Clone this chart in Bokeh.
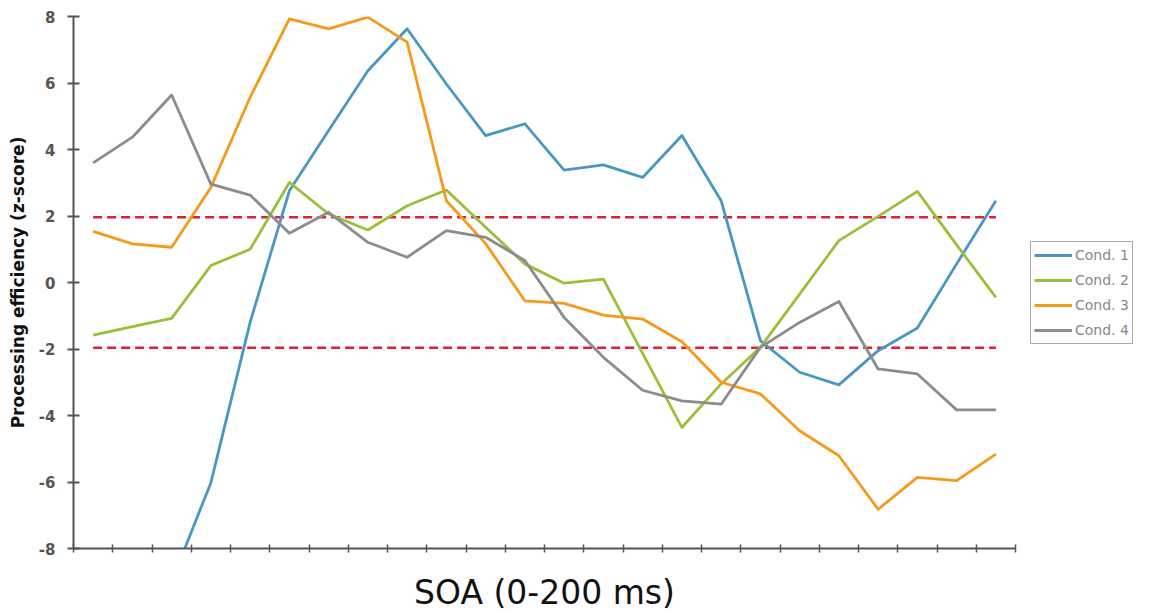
import numpy as np
from bokeh.plotting import figure
from bokeh.models import Range1d, FixedTicker, Legend, LegendItem
from bokeh.embed import file_html
from bokeh.resources import INLINE

# ---- data ----
n_points = 24
cond1 = [-13.0, -11.0, -9.0, -6.02, -1.2, 2.76, 4.57, 6.37, 7.63, 5.97, 4.42, 4.77,
         3.38, 3.54, 3.16, 4.42, 2.46, -1.75, -2.7, -3.08, -2.05, -1.37, 0.56, 2.46]
cond2 = [-1.58, -1.33, -1.08, 0.51, 1.0, 3.01, 2.06, 1.58, 2.31, 2.78, 1.66, 0.56,
         -0.02, 0.1, -2.13, -4.36, -3.05, -1.95, -0.35, 1.26, 1.99, 2.74, 1.13, -0.45]
cond3 = [1.54, 1.16, 1.06, 2.86, 5.57, 7.93, 7.63, 7.98, 7.23, 2.46, 1.17, -0.55,
         -0.63, -0.98, -1.1, -1.78, -3.0, -3.35, -4.46, -5.21, -6.82, -5.86, -5.96, -5.16]
cond4 = [3.6, 4.37, 5.64, 2.96, 2.63, 1.48, 2.11, 1.21, 0.76, 1.56, 1.36, 0.66,
         -1.05, -2.25, -3.24, -3.56, -3.66, -1.95, -1.2, -0.57, -2.6, -2.75, -3.83, -3.83]
series_names = ["Cond. 1", "Cond. 2", "Cond. 3", "Cond. 4"]
series_colors = ["#4a97c4", "#9cbf3a", "#f7991c", "#8c8c8c"]
threshold = 1.96
y_ticks = [-8, -6, -4, -2, 0, 2, 4, 6, 8]
y_tick_labels = {t: str(t) for t in y_ticks}

x = np.arange(n_points) + 0.5   # category centres

p = figure(output_backend="svg", toolbar_location=None,
           frame_width=942, frame_height=532,
           min_border_left=73, min_border_right=136, min_border_top=16, min_border_bottom=64,
           x_range=Range1d(0, n_points), y_range=Range1d(-8, 8))
p.outline_line_color = None
p.grid.visible = False
p.background_fill_color = "white"
p.border_fill_color = "white"

# threshold lines
for t in (threshold, -threshold):
    p.line([x[0], x[-1]], [t, t], line_color="#e0202e", line_width=2.5, line_dash="9 5")

renderers = []
for ys, col in zip([cond1, cond2, cond3, cond4], series_colors):
    r = p.line(x, ys, line_color=col, line_width=2.8, line_join="round")
    renderers.append(r)

# y axis
ya = p.yaxis[0]
ya.ticker = FixedTicker(ticks=y_ticks, minor_ticks=[])
ya.major_label_overrides = y_tick_labels
ya.axis_line_color = "#555555"
ya.axis_line_width = 2
ya.major_tick_line_color = "#555555"
ya.major_tick_line_width = 2
ya.major_tick_in = 6
ya.major_tick_out = 6
ya.minor_tick_line_color = None
ya.major_label_text_font = "DejaVu Sans"
ya.major_label_text_font_style = "bold"
ya.major_label_text_font_size = "15px"
ya.major_label_text_color = "#555555"
ya.major_label_standoff = 12
ya.axis_label = "Processing efficiency (z-score)"
ya.axis_label_text_font = "DejaVu Sans"
ya.axis_label_text_font_style = "bold"
ya.axis_label_text_font_size = "17px"
ya.axis_label_text_color = "#111111"
ya.axis_label_standoff = 8

# x axis: tick marks only (drawn as minor ticks, no labels)
xa = p.xaxis[0]
xa.ticker = FixedTicker(ticks=[], minor_ticks=list(range(n_points + 1)))
xa.axis_line_color = "#555555"
xa.axis_line_width = 2
xa.minor_tick_line_color = "#555555"
xa.minor_tick_line_width = 1.5
xa.minor_tick_in = 4
xa.minor_tick_out = 4
xa.major_tick_in = 4
xa.major_tick_out = 4
xa.major_label_standoff = 0
xa.axis_label = "SOA (0-200 ms)"
xa.axis_label_text_font = "DejaVu Sans"
xa.axis_label_text_font_style = "normal"
xa.axis_label_text_font_size = "33px"
xa.axis_label_text_color = "#111111"
xa.axis_label_standoff = 20

legend = Legend(items=[LegendItem(label=nm, renderers=[r]) for nm, r in zip(series_names, renderers)],
                location=(15, 204))
legend.label_text_font = "DejaVu Sans"
legend.label_text_font_size = "14px"
legend.label_text_color = "#888888"
legend.glyph_width = 38
legend.glyph_height = 20
legend.label_height = 20
legend.label_standoff = 3
legend.spacing = 5
legend.padding = 3
legend.margin = 0
legend.border_line_color = "#555555"
legend.border_line_width = 1.5
legend.background_fill_color = "white"
legend.background_fill_alpha = 1
p.add_layout(legend, "right")

open("out.html", "w").write(file_html(p, INLINE))
